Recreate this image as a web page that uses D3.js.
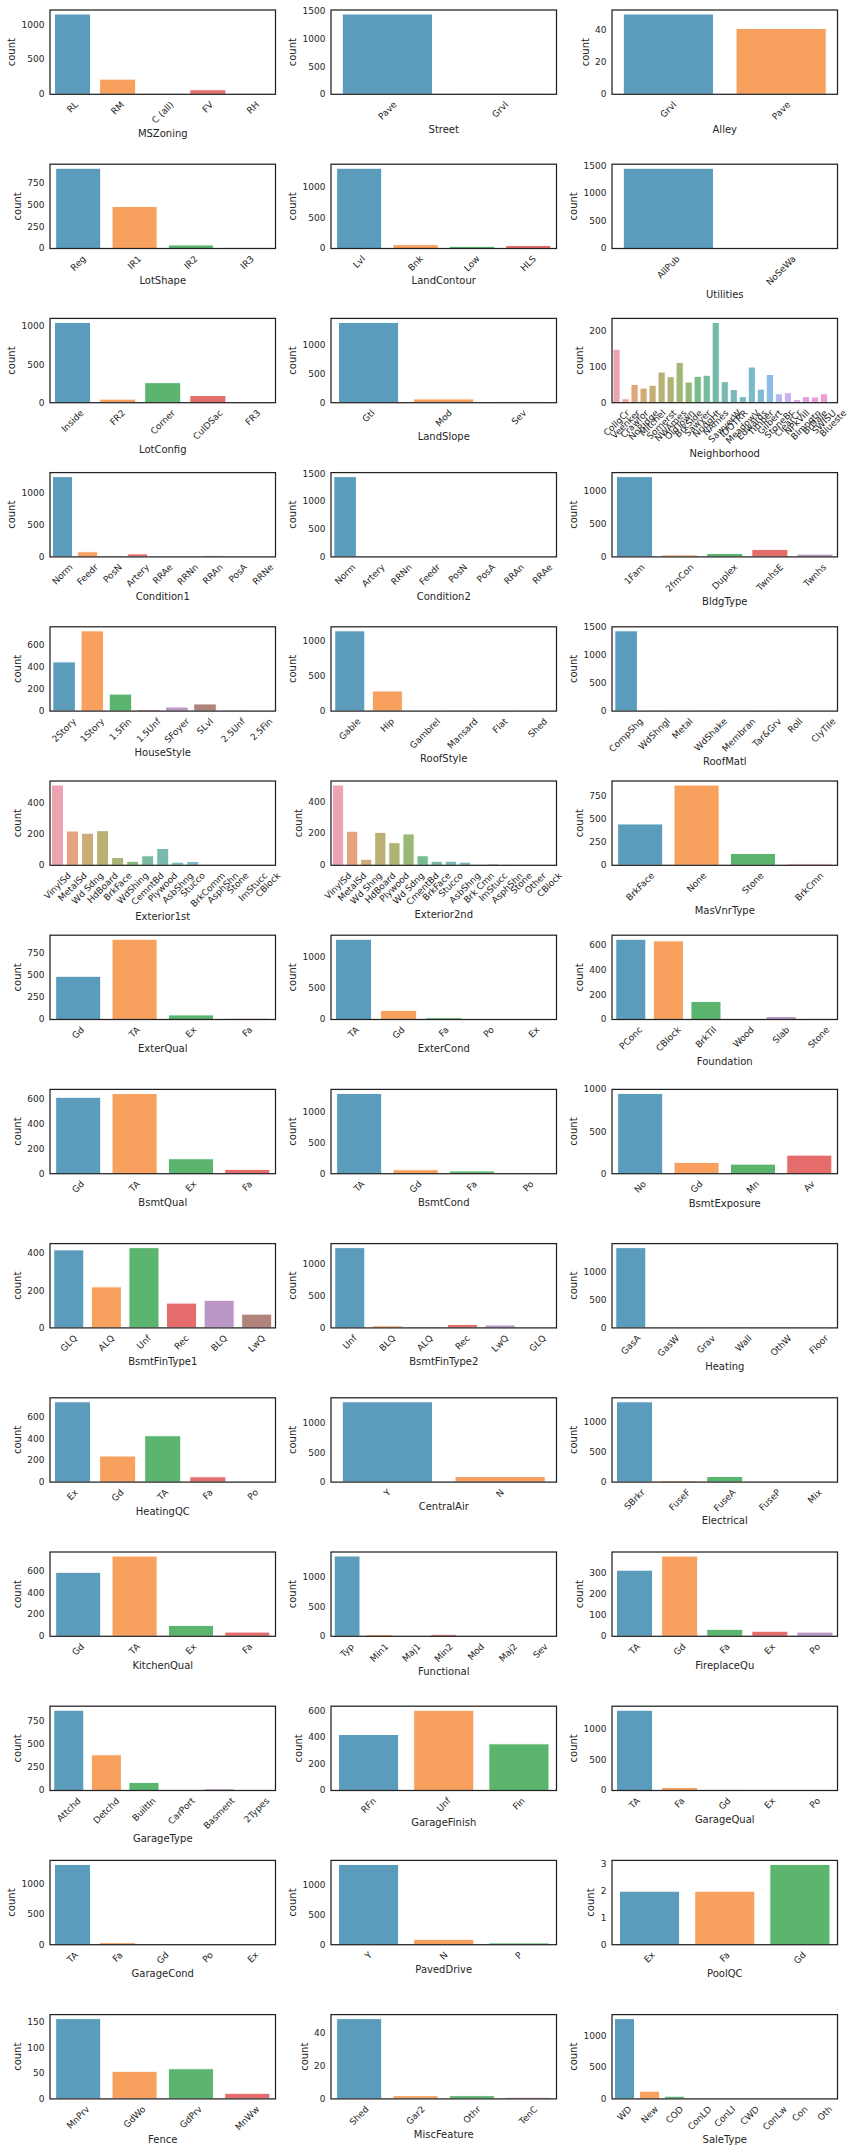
<!DOCTYPE html>
<html><head><meta charset="utf-8">
<script src="https://cdn.jsdelivr.net/npm/d3@7"></script>
<style>
html,body{margin:0;padding:0;background:#fff;}
svg{display:block;font-family:"DejaVu Sans",sans-serif;}
</style></head>
<body>
<svg id="chart" width="856" height="2153"></svg>
<script>
// ---------- data (category order as drawn, counts, y tick labels) ----------
const MSZoningCats=["RL","RM","C (all)","FV","RH"], MSZoningVals=[1151,218,10,65,16], MSZoningTicks=[0,500,1000];
const StreetCats=["Pave","Grvl"], StreetVals=[1454,6], StreetTicks=[0,500,1000,1500];
const AlleyCats=["Grvl","Pave"], AlleyVals=[50,41], AlleyTicks=[0,20,40];
const LotShapeCats=["Reg","IR1","IR2","IR3"], LotShapeVals=[925,484,41,10], LotShapeTicks=[0,250,500,750];
const LandContourCats=["Lvl","Bnk","Low","HLS"], LandContourVals=[1311,63,36,50], LandContourTicks=[0,500,1000];
const UtilitiesCats=["AllPub","NoSeWa"], UtilitiesVals=[1459,1], UtilitiesTicks=[0,500,1000,1500];
const LotConfigCats=["Inside","FR2","Corner","CulDSac","FR3"], LotConfigVals=[1052,47,263,94,4], LotConfigTicks=[0,500,1000];
const LandSlopeCats=["Gtl","Mod","Sev"], LandSlopeVals=[1382,65,13], LandSlopeTicks=[0,500,1000];
const NeighborhoodCats=["CollgCr","Veenker","Crawfor","NoRidge","Mitchel","Somerst","NWAmes","OldTown","BrkSide","Sawyer","NridgHt","NAmes","SawyerW","IDOTRR","MeadowV","Edwards","Timber","Gilbert","StoneBr","ClearCr","NPkVill","Blmngtn","BrDale","SWISU","Blueste"];
const NeighborhoodVals=[150,11,51,41,49,86,73,113,58,74,77,225,59,37,17,100,38,79,25,28,9,17,16,25,2], NeighborhoodTicks=[0,100,200];
const Condition1Cats=["Norm","Feedr","PosN","Artery","RRAe","RRNn","RRAn","PosA","RRNe"], Condition1Vals=[1260,81,19,48,11,5,26,8,2], Condition1Ticks=[0,500,1000];
const Condition2Cats=["Norm","Artery","RRNn","Feedr","PosN","PosA","RRAn","RRAe"], Condition2Vals=[1445,2,2,6,2,1,1,1], Condition2Ticks=[0,500,1000,1500];
const BldgTypeCats=["1Fam","2fmCon","Duplex","TwnhsE","Twnhs"], BldgTypeVals=[1220,31,52,114,43], BldgTypeTicks=[0,500,1000];
const HouseStyleCats=["2Story","1Story","1.5Fin","1.5Unf","SFoyer","SLvl","2.5Unf","2.5Fin"], HouseStyleVals=[445,726,154,14,37,65,11,8], HouseStyleTicks=[0,200,400,600];
const RoofStyleCats=["Gable","Hip","Gambrel","Mansard","Flat","Shed"], RoofStyleVals=[1141,286,11,7,13,2], RoofStyleTicks=[0,500,1000];
const RoofMatlCats=["CompShg","WdShngl","Metal","WdShake","Membran","Tar&Grv","Roll","ClyTile"], RoofMatlVals=[1434,6,1,5,1,11,1,1], RoofMatlTicks=[0,500,1000,1500];
const Exterior1stCats=["VinylSd","MetalSd","Wd Sdng","HdBoard","BrkFace","WdShing","CemntBd","Plywood","AsbShng","Stucco","BrkComm","AsphShn","Stone","ImStucc","CBlock"];
const Exterior1stVals=[515,220,206,222,50,26,61,108,20,25,2,1,2,1,1], Exterior1stTicks=[0,200,400];
const Exterior2ndCats=["VinylSd","MetalSd","Wd Shng","HdBoard","Plywood","Wd Sdng","CmentBd","BrkFace","Stucco","AsbShng","Brk Cmn","ImStucc","AsphShn","Stone","Other","CBlock"];
const Exterior2ndVals=[504,214,38,207,142,197,60,25,26,20,7,10,3,5,1,1], Exterior2ndTicks=[0,200,400];
const MasVnrTypeCats=["BrkFace","None","Stone","BrkCmn"], MasVnrTypeVals=[445,864,128,15], MasVnrTypeTicks=[0,250,500,750];
const ExterQualCats=["Gd","TA","Ex","Fa"], ExterQualVals=[488,906,52,14], ExterQualTicks=[0,250,500,750];
const ExterCondCats=["TA","Gd","Fa","Po","Ex"], ExterCondVals=[1282,146,28,1,3], ExterCondTicks=[0,500,1000];
const FoundationCats=["PConc","CBlock","BrkTil","Wood","Slab","Stone"], FoundationVals=[647,634,146,3,24,6], FoundationTicks=[0,200,400,600];
const BsmtQualCats=["Gd","TA","Ex","Fa"], BsmtQualVals=[618,649,121,35], BsmtQualTicks=[0,200,400,600];
const BsmtCondCats=["TA","Gd","Fa","Po"], BsmtCondVals=[1311,65,45,2], BsmtCondTicks=[0,500,1000];
const BsmtExposureCats=["No","Gd","Mn","Av"], BsmtExposureVals=[953,134,114,221], BsmtExposureTicks=[0,500,1000];
const BsmtFinType1Cats=["GLQ","ALQ","Unf","Rec","BLQ","LwQ"], BsmtFinType1Vals=[418,220,430,133,148,74], BsmtFinType1Ticks=[0,200,400];
const BsmtFinType2Cats=["Unf","BLQ","ALQ","Rec","LwQ","GLQ"], BsmtFinType2Vals=[1256,33,19,54,46,14], BsmtFinType2Ticks=[0,500,1000];
const HeatingCats=["GasA","GasW","Grav","Wall","OthW","Floor"], HeatingVals=[1428,18,7,4,2,1], HeatingTicks=[0,500,1000];
const HeatingQCCats=["Ex","Gd","TA","Fa","Po"], HeatingQCVals=[741,241,428,49,1], HeatingQCTicks=[0,200,400,600];
const CentralAirCats=["Y","N"], CentralAirVals=[1365,95], CentralAirTicks=[0,500,1000];
const ElectricalCats=["SBrkr","FuseF","FuseA","FuseP","Mix"], ElectricalVals=[1334,27,94,3,1], ElectricalTicks=[0,500,1000];
const KitchenQualCats=["Gd","TA","Ex","Fa"], KitchenQualVals=[586,735,100,39], KitchenQualTicks=[0,200,400,600];
const FunctionalCats=["Typ","Min1","Maj1","Min2","Mod","Maj2","Sev"], FunctionalVals=[1360,31,14,34,15,5,1], FunctionalTicks=[0,500,1000];
const FireplaceQuCats=["TA","Gd","Fa","Ex","Po"], FireplaceQuVals=[313,380,33,24,20], FireplaceQuTicks=[0,100,200,300];
const GarageTypeCats=["Attchd","Detchd","BuiltIn","CarPort","Basment","2Types"], GarageTypeVals=[870,387,88,9,19,6], GarageTypeTicks=[0,250,500,750];
const GarageFinishCats=["RFn","Unf","Fin"], GarageFinishVals=[422,605,352], GarageFinishTicks=[0,200,400,600];
const GarageQualCats=["TA","Fa","Gd","Ex","Po"], GarageQualVals=[1311,48,14,3,3], GarageQualTicks=[0,500,1000];
const GarageCondCats=["TA","Fa","Gd","Po","Ex"], GarageCondVals=[1326,35,9,7,2], GarageCondTicks=[0,500,1000];
const PavedDriveCats=["Y","N","P"], PavedDriveVals=[1340,90,30], PavedDriveTicks=[0,500,1000];
const PoolQCCats=["Ex","Fa","Gd"], PoolQCVals=[2,2,3], PoolQCTicks=[0,1,2,3];
const FenceCats=["MnPrv","GdWo","GdPrv","MnWw"], FenceVals=[157,54,59,11], FenceTicks=[0,50,100,150];
const MiscFeatureCats=["Shed","Gar2","Othr","TenC"], MiscFeatureVals=[49,2,2,1], MiscFeatureTicks=[0,20,40];
const SaleTypeCats=["WD","New","COD","ConLD","ConLI","CWD","ConLw","Con","Oth"], SaleTypeVals=[1267,122,43,9,5,4,5,2,3], SaleTypeTicks=[0,500,1000];

const panels=[
 ["MSZoning",MSZoningCats,MSZoningVals,MSZoningTicks],["Street",StreetCats,StreetVals,StreetTicks],["Alley",AlleyCats,AlleyVals,AlleyTicks],
 ["LotShape",LotShapeCats,LotShapeVals,LotShapeTicks],["LandContour",LandContourCats,LandContourVals,LandContourTicks],["Utilities",UtilitiesCats,UtilitiesVals,UtilitiesTicks],
 ["LotConfig",LotConfigCats,LotConfigVals,LotConfigTicks],["LandSlope",LandSlopeCats,LandSlopeVals,LandSlopeTicks],["Neighborhood",NeighborhoodCats,NeighborhoodVals,NeighborhoodTicks],
 ["Condition1",Condition1Cats,Condition1Vals,Condition1Ticks],["Condition2",Condition2Cats,Condition2Vals,Condition2Ticks],["BldgType",BldgTypeCats,BldgTypeVals,BldgTypeTicks],
 ["HouseStyle",HouseStyleCats,HouseStyleVals,HouseStyleTicks],["RoofStyle",RoofStyleCats,RoofStyleVals,RoofStyleTicks],["RoofMatl",RoofMatlCats,RoofMatlVals,RoofMatlTicks],
 ["Exterior1st",Exterior1stCats,Exterior1stVals,Exterior1stTicks],["Exterior2nd",Exterior2ndCats,Exterior2ndVals,Exterior2ndTicks],["MasVnrType",MasVnrTypeCats,MasVnrTypeVals,MasVnrTypeTicks],
 ["ExterQual",ExterQualCats,ExterQualVals,ExterQualTicks],["ExterCond",ExterCondCats,ExterCondVals,ExterCondTicks],["Foundation",FoundationCats,FoundationVals,FoundationTicks],
 ["BsmtQual",BsmtQualCats,BsmtQualVals,BsmtQualTicks],["BsmtCond",BsmtCondCats,BsmtCondVals,BsmtCondTicks],["BsmtExposure",BsmtExposureCats,BsmtExposureVals,BsmtExposureTicks],
 ["BsmtFinType1",BsmtFinType1Cats,BsmtFinType1Vals,BsmtFinType1Ticks],["BsmtFinType2",BsmtFinType2Cats,BsmtFinType2Vals,BsmtFinType2Ticks],["Heating",HeatingCats,HeatingVals,HeatingTicks],
 ["HeatingQC",HeatingQCCats,HeatingQCVals,HeatingQCTicks],["CentralAir",CentralAirCats,CentralAirVals,CentralAirTicks],["Electrical",ElectricalCats,ElectricalVals,ElectricalTicks],
 ["KitchenQual",KitchenQualCats,KitchenQualVals,KitchenQualTicks],["Functional",FunctionalCats,FunctionalVals,FunctionalTicks],["FireplaceQu",FireplaceQuCats,FireplaceQuVals,FireplaceQuTicks],
 ["GarageType",GarageTypeCats,GarageTypeVals,GarageTypeTicks],["GarageFinish",GarageFinishCats,GarageFinishVals,GarageFinishTicks],["GarageQual",GarageQualCats,GarageQualVals,GarageQualTicks],
 ["GarageCond",GarageCondCats,GarageCondVals,GarageCondTicks],["PavedDrive",PavedDriveCats,PavedDriveVals,PavedDriveTicks],["PoolQC",PoolQCCats,PoolQCVals,PoolQCTicks],
 ["Fence",FenceCats,FenceVals,FenceTicks],["MiscFeature",MiscFeatureCats,MiscFeatureVals,MiscFeatureTicks],["SaleType",SaleTypeCats,SaleTypeVals,SaleTypeTicks]
];

// ---------- colours ----------
const basePalette=["#5b9bbb","#f8a15f","#5cb56e","#e46c6b","#bb97c6","#b0847a","#e6a1cf","#a6a6a6","#c9c96f","#60c3d1"];
// HSLuv -> rgb (for seaborn's husl palette used when > 10 categories)
const Mx=[[3.240969941904521,-1.537383177570093,-0.498610760293],[-0.96924363628087,1.87596750150772,0.041555057407175],[0.055630079696993,-0.20397695888897,1.056971514242878]];
const refU=0.19783000664283,refV=0.46831999493879,kappa=903.2962962,eps=0.0088564516;
function bounds(L){const s1=Math.pow(L+16,3)/1560896,s2=s1>eps?s1:L/kappa,r=[];
 for(const [m1,m2,m3] of Mx){for(let t=0;t<2;t++){const t1=(284517*m1-94839*m3)*s2,t2=(838422*m3+769860*m2+731718*m1)*L*s2-769860*t*L,b=(632260*m3-126452*m2)*s2+126452*t;r.push([t1/b,t2/b]);}}return r;}
function maxC(L,H){const h=H/360*2*Math.PI;let mn=Infinity;for(const [m,b] of bounds(L)){const len=b/(Math.sin(h)-m*Math.cos(h));if(len>=0)mn=Math.min(mn,len);}return mn;}
function hsluv(H,S,L){const C=maxC(L,H)/100*S,hr=H/180*Math.PI,U=Math.cos(hr)*C,V=Math.sin(hr)*C;
 const Y=L<=8?L/kappa:Math.pow((L+16)/116,3),vu=U/(13*L)+refU,vv=V/(13*L)+refV;
 const X=0-(9*Y*vu)/((vu-4)*vv-vu*vv),Z=(9*Y-15*vv*Y-vv*X)/(3*vv);
 const f=c=>{c=c<=0.0031308?12.92*c:1.055*Math.pow(c,1/2.4)-0.055;return Math.max(0,Math.min(1,c));};
 return Mx.map(r=>f(r[0]*X+r[1]*Y+r[2]*Z));}
function desatAlpha(rgb,sat,alpha){const c=d3.hsl(d3.rgb(rgb[0]*255,rgb[1]*255,rgb[2]*255));c.s*=sat;const r=d3.rgb(c);
 return d3.rgb(r.r*alpha+255*(1-alpha),r.g*alpha+255*(1-alpha),r.b*alpha+255*(1-alpha)).formatHex();}
function palette(n){if(n<=10)return basePalette.slice(0,n);
 const out=[];for(let i=0;i<n;i++){const h=((i/n)+0.01)%1*359;out.push(desatAlpha(hsluv(h,0.9*99,0.65*99),0.75,0.72));}return out;}

// ---------- layout ----------
const colX=[50,331,612], axW=225.5, axH=84.3, row0=10, rowPitch=154.2;
const tickFs=9, labFs=10, txtCol="#262626";
const svg=d3.select("#chart");

panels.forEach((p,i)=>{
 const [name,cats,vals,ticks]=p;
 const r=Math.floor(i/3), c=i%3;
 const x0=colX[c], y0=row0+r*rowPitch;
 const g=svg.append("g").attr("transform",`translate(${x0},${y0})`);
 const x=d3.scaleBand().domain(cats).range([0,axW]).paddingInner(0.2).paddingOuter(0.1);
 const y=d3.scaleLinear().domain([0,d3.max(vals)*1.05]).range([axH,0]);
 const cols=palette(cats.length);
 g.selectAll("rect.bar").data(cats).join("rect").attr("class","bar")
  .attr("x",d=>x(d)).attr("width",x.bandwidth())
  .attr("y",(d,k)=>y(vals[k])).attr("height",(d,k)=>axH-y(vals[k]))
  .attr("fill",(d,k)=>cols[k]).attr("stroke","#fff").attr("stroke-width",1);
 // frame
 g.append("rect").attr("x",0).attr("y",0).attr("width",axW).attr("height",axH)
  .attr("fill","none").attr("stroke","#222").attr("stroke-width",1.25);
 // y ticks
 const yt=g.append("g").attr("font-size",tickFs).attr("fill",txtCol);
 let minLeft=0;
 ticks.forEach(t=>{const tx=yt.append("text").attr("x",-5.5).attr("y",y(t)).attr("text-anchor","end")
   .attr("dominant-baseline","central").text(d3.format("d")(t));
   const w=tx.node().getComputedTextLength();minLeft=Math.min(minLeft,-5.5-w);});
 // y label
 g.append("text").attr("transform",`translate(${minLeft-6.5},${axH/2}) rotate(-90)`)
  .attr("text-anchor","middle").attr("font-size",labFs).attr("fill",txtCol).text("count");
 // x tick labels rotated 45
 const xt=g.append("g").attr("font-size",tickFs).attr("fill",txtCol);
 let maxBottom=axH;
 const h=tickFs*1.17, s=Math.SQRT1_2;
 cats.forEach(cat=>{const cx=x(cat)+x.bandwidth()/2;
   const tx=xt.append("text").attr("text-anchor","middle").attr("dominant-baseline","central").text(cat);
   const w=tx.node().getComputedTextLength();
   const bh=(w+h)*s, cy=axH+5+bh/2;
   tx.attr("transform",`translate(${cx},${cy}) rotate(-45)`);
   maxBottom=Math.max(maxBottom,axH+5+bh);});
 // x label
 g.append("text").attr("x",axW/2).attr("y",maxBottom+11).attr("text-anchor","middle")
  .attr("font-size",labFs).attr("fill",txtCol).text(name);
});
</script>
</body></html>
